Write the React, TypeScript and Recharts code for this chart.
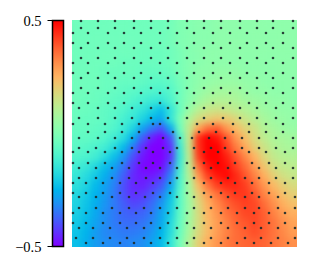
import { Bar, BarChart, Scatter, ScatterChart, XAxis, YAxis } from 'recharts';

// values in hundredths, rows top to bottom
const fieldRows = [
  [-3, -3, -3, -3, -3, -3, -3, -3, -3, -3, -2, 0, 1, 2, 2, 3, 3, 3, 3, 3, 3, 3, 3, 3],
  [-3, -3, -3, -3, -3, -3, -3, -3, -3, -3, -2, 0, 1, 2, 2, 3, 3, 3, 3, 3, 3, 3, 3, 3],
  [-3, -3, -3, -3, -3, -3, -3, -3, -3, -3, -2, 0, 1, 2, 2, 3, 3, 3, 3, 3, 3, 3, 3, 3],
  [-3, -3, -3, -3, -3, -3, -3, -4, -4, -4, -3, -1, 1, 2, 3, 3, 3, 3, 3, 3, 3, 3, 3, 3],
  [-3, -3, -3, -3, -3, -4, -4, -4, -4, -4, -3, -1, 1, 2, 3, 3, 3, 3, 3, 3, 3, 3, 3, 3],
  [-3, -3, -3, -4, -4, -4, -4, -5, -5, -5, -4, -1, 1, 3, 3, 4, 4, 4, 3, 3, 3, 3, 3, 3],
  [-3, -3, -3, -4, -4, -5, -5, -6, -7, -7, -6, -2, 1, 3, 4, 5, 5, 5, 4, 4, 3, 3, 3, 3],
  [-3, -3, -4, -4, -5, -6, -7, -8, -9, -10, -8, -3, 1, 4, 6, 7, 7, 7, 5, 4, 4, 3, 3, 3],
  [-3, -4, -4, -5, -6, -7, -9, -11, -13, -14, -10, -3, 2, 6, 9, 10, 10, 9, 7, 6, 5, 4, 4, 3],
  [-4, -4, -5, -6, -7, -9, -12, -15, -19, -23, -15, -4, 5, 11, 14, 15, 14, 12, 10, 8, 6, 5, 4, 4],
  [-4, -5, -5, -6, -8, -11, -14, -19, -24, -27, -15, -1, 10, 17, 20, 22, 21, 18, 14, 11, 8, 6, 5, 4],
  [-5, -5, -6, -7, -9, -13, -19, -28, -35, -40, -27, -3, 13, 28, 36, 38, 30, 24, 19, 15, 10, 8, 6, 5],
  [-6, -6, -7, -9, -12, -17, -26, -38, -46, -50, -40, -10, 14, 44, 50, 47, 39, 30, 23, 17, 12, 9, 8, 7],
  [-7, -8, -10, -12, -17, -24, -34, -44, -50, -50, -44, -13, 14, 44, 50, 50, 42, 34, 27, 20, 15, 11, 9, 8],
  [-9, -10, -12, -17, -23, -30, -40, -47, -50, -50, -44, -14, 12, 42, 50, 50, 46, 39, 32, 25, 18, 13, 11, 10],
  [-12, -14, -18, -23, -28, -35, -43, -49, -50, -49, -38, -12, 12, 36, 47, 50, 48, 42, 36, 29, 22, 16, 13, 12],
  [-14, -17, -21, -26, -31, -38, -45, -47, -47, -44, -33, -10, 10, 30, 42, 47, 49, 45, 39, 33, 26, 20, 16, 14],
  [-16, -19, -24, -28, -33, -40, -45, -46, -43, -39, -28, -9, 8, 24, 35, 42, 45, 45, 42, 36, 30, 24, 20, 17],
  [-18, -21, -25, -29, -34, -40, -44, -43, -39, -34, -23, -7, 7, 20, 29, 35, 40, 43, 43, 39, 33, 28, 23, 20],
  [-19, -22, -26, -30, -34, -38, -41, -40, -36, -30, -21, -7, 6, 18, 26, 32, 37, 40, 42, 41, 36, 31, 26, 23],
  [-20, -23, -27, -31, -34, -37, -38, -37, -34, -28, -20, -6, 6, 17, 25, 30, 35, 38, 41, 41, 38, 33, 29, 26],
  [-21, -24, -28, -31, -34, -36, -36, -35, -32, -27, -18, -5, 7, 17, 24, 29, 33, 37, 39, 41, 38, 35, 31, 28],
  [-22, -25, -29, -32, -33, -34, -34, -33, -30, -25, -17, -4, 8, 18, 24, 29, 33, 36, 38, 40, 38, 35, 32, 29],
  [-23, -26, -29, -31, -32, -33, -32, -31, -28, -24, -15, -2, 10, 20, 26, 30, 34, 36, 37, 38, 37, 35, 33, 31],
];

// sample points, as [y, x positions]
const rowA = [9, 26, 43, 62, 79, 96, 115, 132, 149, 168, 185, 201, 221];
const rowB = [1, 16, 36, 52, 69, 88, 105, 122, 141, 158, 175, 194, 211];
const dotRows: [number, number[]][] = [
  [1, rowA],
  [8, rowA],
  [13, rowB],
  [23, rowB],
  [28, rowA],
  [38, rowA],
  [43, rowB],
  [53, rowB],
  [58, rowA],
  [68, rowA],
  [73, rowB],
  [83, [1, 16, 36, 52, 69, 88, 105, 122, 141, 158, 177, 194, 211]],
  [88, [7, 26, 43, 60, 79, 96, 115, 132, 151, 168, 185, 204, 221]],
  [98, [7, 26, 43, 60, 79, 96, 115, 132, 151, 168, 185, 204, 221]],
  [104, [1, 16, 33, 50, 67, 81, 88, 125, 141, 161, 177, 194, 211]],
  [112, [16, 33, 50, 67, 101, 127, 144, 161, 177, 194, 211]],
  [118, [7, 26, 43, 60, 77, 91, 108, 120, 137, 153, 170, 187, 204, 221]],
  [128, [7, 24, 43, 60, 74, 91, 105, 122, 139, 153, 170, 187, 204, 221]],
  [132, [1, 16, 33, 50, 67, 81, 98, 132, 146, 163, 177, 194, 213]],
  [143, [1, 16, 33, 50, 67, 81, 98, 115, 132, 146, 163, 180, 197, 213]],
  [148, [7, 24, 40, 57, 74, 88, 105, 122, 139, 156, 187, 204, 221]],
  [158, [7, 24, 40, 57, 74, 88, 105, 122, 139, 156, 173, 187, 204, 221]],
  [163, [1, 14, 31, 48, 64, 81, 98, 115, 132, 149, 163, 180, 197, 213]],
  [173, [1, 14, 31, 48, 64, 81, 98, 115, 132, 149, 163, 180, 197, 213]],
  [177, [7, 24, 40, 57, 73, 88, 105, 122, 139, 156, 173, 187, 206, 223]],
  [188, [7, 24, 40, 57, 72, 88, 105, 122, 139, 156, 173, 187, 206, 223]],
  [193, [1, 14, 31, 48, 64, 79, 96, 115, 132, 149, 165, 182, 197, 213]],
  [203, [1, 14, 31, 48, 64, 79, 96, 115, 132, 149, 165, 182, 197, 213]],
  [208, [7, 21, 38, 55, 72, 88, 105, 122, 139, 156, 173, 189, 206, 223]],
  [218, [4, 21, 38, 55, 72, 88, 105, 122, 139, 156, 173, 189, 206, 223]],
  [223, [14, 31, 48, 62, 79, 96, 115, 132, 149, 165, 182, 199, 216]],
];

const colorTicks = [-0.5, 0.5];
const colorRange = [{ name: 'scale', range: [-0.5, 0.5] }];

const X_MAX = 225;
const Y_MAX = 226.7;
const SERIF = '"Liberation Serif", serif';

// matplotlib "rainbow"
function rainbow(t: number) {
  const r = Math.min(1, Math.abs(2 * t - 0.5));
  const g = Math.sin(Math.PI * t);
  const b = Math.cos((Math.PI * t) / 2);
  const hex = (c: number) => Math.round(c * 255);
  return `rgb(${hex(r)},${hex(g)},${hex(b)})`;
}

const cellW = X_MAX / fieldRows[0].length;
const cellH = Y_MAX / fieldRows.length;

const cells = fieldRows.flatMap((row, j) =>
  row.map((v, i) => ({
    x: (i + 0.5) * cellW,
    y: (j + 0.5) * cellH,
    fill: rainbow(v / 100 + 0.5),
  })),
);
const dots = dotRows.flatMap(([y, xs]) => xs.map((x) => ({ x, y })));
const gradientStops = Array.from({ length: 33 }, (_, i) => i / 32);

function Cell(props: any) {
  return (
    <rect
      x={props.cx - cellW / 2}
      y={props.cy - cellH / 2}
      width={cellW}
      height={cellH}
      fill={props.payload.fill}
    />
  );
}

function Dot(props: any) {
  return <circle cx={props.cx} cy={props.cy} r={1.3} fill='#1c2b2b' fillOpacity={0.9} />;
}

export default function App() {
  return (
    <div style={{ position: 'absolute', left: 0, top: 0, width: 320, height: 270, background: '#fff' }}>
      <style>{`.field-cells { filter: url(#field-blur); }`}</style>

      <div style={{ position: 'absolute', left: 0, top: 0 }}>
        <BarChart
          width={65}
          height={270}
          data={colorRange}
          margin={{ top: 20.5, right: 2, bottom: 23.5, left: 0 }}
          barCategoryGap={0}
        >
          <defs>
            <linearGradient id='rainbow' x1='0' y1='1' x2='0' y2='0'>
              {gradientStops.map((t) => (
                <stop key={t} offset={t} stopColor={rainbow(t)} />
              ))}
            </linearGradient>
          </defs>
          <XAxis dataKey='name' hide />
          <YAxis
            width={52.5}
            domain={[-0.5, 0.5]}
            ticks={colorTicks}
            interval={0}
            axisLine={false}
            tickSize={5}
            tickMargin={6}
            tickLine={{ stroke: '#000', strokeWidth: 1 }}
            tick={{ fill: '#000', fontSize: 14.5, fontFamily: SERIF }}
            tickFormatter={(v: number) => (v < 0 ? `\u2212${Math.abs(v)}` : `${v}`)}
          />
          <Bar
            dataKey='range'
            fill='url(#rainbow)'
            stroke='#000'
            strokeWidth={1.5}
            isAnimationActive={false}
          />
        </BarChart>
      </div>

      <div style={{ position: 'absolute', left: 0, top: 0 }}>
        <ScatterChart
          width={320}
          height={270}
          margin={{ top: 20, right: 23, bottom: 23.3, left: 72 }}
        >
          <defs>
            <filter
              id='field-blur'
              x='0'
              y='0'
              width='1'
              height='1'
              colorInterpolationFilters='sRGB'
            >
              <feGaussianBlur stdDeviation='3' />
              <feComponentTransfer>
                <feFuncA type='linear' slope='50' />
              </feComponentTransfer>
            </filter>
          </defs>
          <XAxis type='number' dataKey='x' domain={[0, X_MAX]} hide />
          <YAxis type='number' dataKey='y' domain={[0, Y_MAX]} reversed hide />
          <Scatter
            className='field-cells'
            data={cells}
            shape={Cell}
            isAnimationActive={false}
          />
          <Scatter data={dots} shape={Dot} isAnimationActive={false} />
        </ScatterChart>
      </div>
    </div>
  );
}
